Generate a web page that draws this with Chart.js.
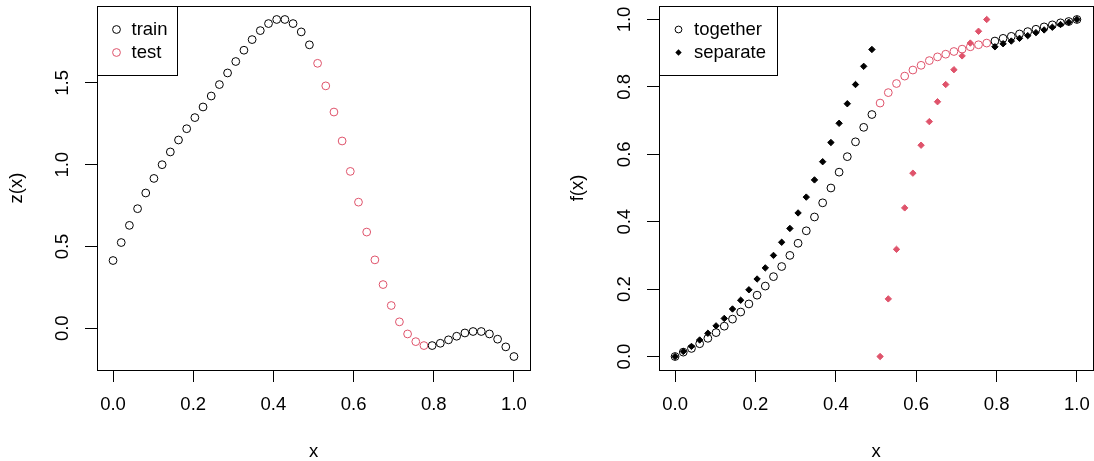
<!DOCTYPE html>
<html>
<head>
<meta charset="utf-8">
<script src="https://cdn.jsdelivr.net/npm/chart.js@4.4.0/dist/chart.umd.min.js"></script>
<style>
    html, body { margin: 0; padding: 0; background: #fff; }
    #contenedor { position: relative; width: 1094px; height: 461px; }
    canvas { position: absolute; top: 0; }
    #grafico1 { left: 0; }
    #grafico2 { left: 547px; }
</style>
</head>
<body>
<div id="contenedor">
    <canvas id="grafico1" width="547" height="461"></canvas>
    <canvas id="grafico2" width="547" height="461"></canvas>
</div>
<script>
// DATOS
var valoresX = [0, 0.0204, 0.0408, 0.0612, 0.0816, 0.1020, 0.1224, 0.1429, 0.1633, 0.1837,
    0.2041, 0.2245, 0.2449, 0.2653, 0.2857, 0.3061, 0.3265, 0.3469, 0.3673, 0.3878,
    0.4082, 0.4286, 0.4490, 0.4694, 0.4898, 0.5102, 0.5306, 0.5510, 0.5714, 0.5918,
    0.6122, 0.6327, 0.6531, 0.6735, 0.6939, 0.7143, 0.7347, 0.7551, 0.7755, 0.7959,
    0.8163, 0.8367, 0.8571, 0.8776, 0.8980, 0.9184, 0.9388, 0.9592, 0.9796, 1.0];

// 1 = punto de test, 0 = punto de train
var esTest = [0, 0, 0, 0, 0, 0, 0, 0, 0, 0, 0, 0, 0, 0, 0, 0, 0, 0, 0, 0, 0, 0, 0, 0, 0,
    1, 1, 1, 1, 1, 1, 1, 1, 1, 1, 1, 1, 1, 1,
    0, 0, 0, 0, 0, 0, 0, 0, 0, 0, 0];

var valoresZ = [0.414, 0.524, 0.629, 0.731, 0.827, 0.916, 1.000, 1.078, 1.151, 1.220,
    1.288, 1.353, 1.420, 1.490, 1.561, 1.631, 1.700, 1.765, 1.820, 1.863,
    1.888, 1.888, 1.863, 1.812, 1.733, 1.620, 1.482, 1.322, 1.145, 0.959,
    0.771, 0.588, 0.418, 0.267, 0.139, 0.039, -0.035, -0.082, -0.106, -0.106,
    -0.092, -0.071, -0.049, -0.029, -0.020, -0.020, -0.035, -0.067, -0.114, -0.173];

var fJuntos = [0, 0.013, 0.024, 0.038, 0.054, 0.071, 0.090, 0.111, 0.132, 0.156,
    0.182, 0.209, 0.237, 0.267, 0.300, 0.336, 0.373, 0.414, 0.456, 0.500,
    0.547, 0.593, 0.637, 0.680, 0.718, 0.752, 0.783, 0.810, 0.832, 0.850,
    0.864, 0.878, 0.889, 0.897, 0.905, 0.912, 0.919, 0.925, 0.930, 0.936,
    0.944, 0.950, 0.957, 0.964, 0.971, 0.978, 0.984, 0.990, 0.994, 1.000];

var fSeparado = [0, 0.015, 0.030, 0.049, 0.069, 0.091, 0.113, 0.141, 0.167, 0.198,
    0.230, 0.263, 0.300, 0.339, 0.380, 0.426, 0.473, 0.524, 0.578, 0.635,
    0.692, 0.750, 0.807, 0.861, 0.911, 0, 0.171, 0.318, 0.441, 0.544,
    0.627, 0.697, 0.756, 0.807, 0.851, 0.892, 0.930, 0.965, 1.000, 0.919,
    0.928, 0.936, 0.944, 0.952, 0.961, 0.969, 0.977, 0.985, 0.992, 1.000];

var ticksX = [0, 0.2, 0.4, 0.6, 0.8, 1.0];
var ticksZ = [0, 0.5, 1.0, 1.5];
var ticksF = [0, 0.2, 0.4, 0.6, 0.8, 1.0];

var NEGRO = '#000000';
var ROJO = '#DF536B';
var FUENTE = "'Liberation Sans', Arial, Helvetica, sans-serif";
var TAM = 18.5;

// rango tipo R (4% extra a cada lado)
function rangoR(vals) {
    let mn = Math.min.apply(null, vals);
    let mx = Math.max.apply(null, vals);
    let d = (mx - mn) * 0.04;
    return [mn - d, mx + d];
}

function puntos(ys, filtro) {
    let res = [];
    for (let i = 0; i < valoresX.length; i++) {
        if (filtro(i)) res.push({ x: valoresX[i], y: ys[i] });
    }
    return res;
}

function colorPunto(i) {
    return esTest[i] ? ROJO : NEGRO;
}

function dibujarMarca(ctx, tipo, x, y, r, color) {
    ctx.beginPath();
    if (tipo === 'circle') {
        ctx.arc(x, y, r, 0, Math.PI * 2);
        ctx.strokeStyle = color;
        ctx.lineWidth = 1;
        ctx.stroke();
    } else {
        ctx.moveTo(x - r, y);
        ctx.lineTo(x, y - r);
        ctx.lineTo(x + r, y);
        ctx.lineTo(x, y + r);
        ctx.closePath();
        ctx.fillStyle = color;
        ctx.fill();
    }
}

// plugin: caja, etiquetas eje y rotadas y leyenda
var pluginR = {
    id: 'estiloR',
    afterDraw: function (chart, args, opts) {
        const ctx = chart.ctx;
        const a = chart.chartArea;
        const escalaY = chart.scales.y;
        ctx.save();
        // caja
        ctx.strokeStyle = NEGRO;
        ctx.lineWidth = 1;
        ctx.strokeRect(Math.round(a.left) + 0.5, Math.round(a.top) + 0.5,
            Math.round(a.right - a.left), Math.round(a.bottom - a.top));

        // etiquetas eje y
        ctx.fillStyle = NEGRO;
        ctx.font = TAM + 'px ' + FUENTE;
        ctx.textAlign = 'center';
        ctx.textBaseline = 'middle';
        escalaY.ticks.forEach(function (t) {
            let py = escalaY.getPixelForValue(t.value);
            ctx.save();
            ctx.translate(opts.xEtiquetas, py);
            ctx.rotate(-Math.PI / 2);
            ctx.fillText(t.value.toFixed(1), 0, 0);
            ctx.restore();
        });

        // leyenda
        const x0 = Math.round(a.left) + 0.5;
        const y0 = Math.round(a.top) + 0.5;
        ctx.fillStyle = '#fff';
        ctx.fillRect(x0, y0, opts.anchoLeyenda, 69);
        ctx.strokeStyle = NEGRO;
        ctx.strokeRect(x0, y0, opts.anchoLeyenda, 69);
        opts.items.forEach(function (it, k) {
            let yy = a.top + 23.5 + k * 23;
            dibujarMarca(ctx, it.tipo, a.left + 19.5, yy, it.radio, it.color);
            ctx.fillStyle = NEGRO;
            ctx.textAlign = 'left';
            ctx.fillText(chart.data.datasets[k].label, a.left + opts.xTexto, yy);
        });
        ctx.restore();
    }
};

function crearGrafico(idCanvas, datasets, valoresY, ticksY, tituloY, cfg) {
    let rx = rangoR(valoresX);
    let ry = rangoR(valoresY);
    let ctx = document.getElementById(idCanvas).getContext('2d');
    return new Chart(ctx, {
        type: 'scatter',
        data: { datasets: datasets },
        plugins: [pluginR],
        options: {
            responsive: false,
            animation: false,
            events: [],
            devicePixelRatio: 1,
            layout: {
                autoPadding: false,
                padding: { left: 0, top: 6, right: cfg.padDerecha, bottom: 0 }
            },
            plugins: {
                legend: { display: false },
                tooltip: { enabled: false },
                estiloR: cfg.plugin
            },
            scales: {
                x: {
                    type: 'linear',
                    min: rx[0],
                    max: rx[1],
                    afterBuildTicks: function (s) { s.ticks = ticksX.map(v => ({ value: v })); },
                    afterFit: function (s) {
                        s.height = 91;
                        s.paddingLeft = 0;
                        s.paddingRight = 0;
                    },
                    grid: { drawOnChartArea: false, drawTicks: true, tickLength: 12, color: NEGRO, lineWidth: 1 },
                    border: { display: false },
                    ticks: {
                        color: NEGRO,
                        font: { family: FUENTE, size: TAM, lineHeight: 1 },
                        padding: 14,
                        maxRotation: 0,
                        autoSkip: false,
                        callback: v => v.toFixed(1)
                    },
                    title: {
                        display: true, text: 'x', color: NEGRO,
                        font: { family: FUENTE, size: TAM, lineHeight: 1 },
                        padding: { top: 0, bottom: 0 }
                    }
                },
                y: {
                    type: 'linear',
                    min: ry[0],
                    max: ry[1],
                    afterBuildTicks: function (s) { s.ticks = ticksY.map(v => ({ value: v })); },
                    afterFit: function (s) {
                        s.width = cfg.anchoY;
                        s.paddingTop = 0;
                        s.paddingBottom = 0;
                    },
                    grid: { drawOnChartArea: false, drawTicks: true, tickLength: 12, color: NEGRO, lineWidth: 1 },
                    border: { display: false },
                    ticks: { display: false },
                    title: {
                        display: true, text: tituloY, color: NEGRO,
                        font: { family: FUENTE, size: TAM, lineHeight: 1 },
                        padding: { top: cfg.padTitulo, bottom: 0 }
                    }
                }
            }
        }
    });
}

// GRAFICO 1 - z(x) train / test
crearGrafico('grafico1', [
    {
        label: 'train',
        data: puntos(valoresZ, i => !esTest[i]),
        pointStyle: 'circle', pointRadius: 3.9, pointBorderWidth: 1,
        pointBorderColor: NEGRO, pointBackgroundColor: 'rgba(0,0,0,0)'
    },
    {
        label: 'test',
        data: puntos(valoresZ, i => esTest[i]),
        pointStyle: 'circle', pointRadius: 3.9, pointBorderWidth: 1,
        pointBorderColor: ROJO, pointBackgroundColor: 'rgba(0,0,0,0)'
    }
], valoresZ, ticksZ, 'z(x)', {
    padDerecha: 17, anchoY: 97, padTitulo: 8,
    plugin: {
        xEtiquetas: 63, anchoLeyenda: 80, xTexto: 34.5,
        items: [
            { tipo: 'circle', radio: 3.9, color: NEGRO },
            { tipo: 'circle', radio: 3.9, color: ROJO }
        ]
    }
});

// GRAFICO 2 - f(x) together / separate
crearGrafico('grafico2', [
    {
        label: 'together',
        order: 1,
        data: puntos(fJuntos, i => true),
        pointStyle: 'circle', pointRadius: 3.9, pointBorderWidth: 1,
        pointBorderColor: valoresX.map((v, i) => colorPunto(i)),
        pointBackgroundColor: 'rgba(0,0,0,0)'
    },
    {
        label: 'separate',
        order: 0,
        data: puntos(fSeparado, i => true),
        pointStyle: 'rectRot', pointRadius: 3.2, pointBorderWidth: 1,
        pointBorderColor: valoresX.map((v, i) => colorPunto(i)),
        pointBackgroundColor: valoresX.map((v, i) => colorPunto(i))
    }
], fJuntos.concat(fSeparado), ticksF, 'f(x)', {
    padDerecha: 1, anchoY: 112, padTitulo: 22,
    plugin: {
        xEtiquetas: 78, anchoLeyenda: 118, xTexto: 35,
        items: [
            { tipo: 'circle', radio: 3.4, color: NEGRO },
            { tipo: 'diamond', radio: 3.2, color: NEGRO }
        ]
    }
});
</script>
</body>
</html>
